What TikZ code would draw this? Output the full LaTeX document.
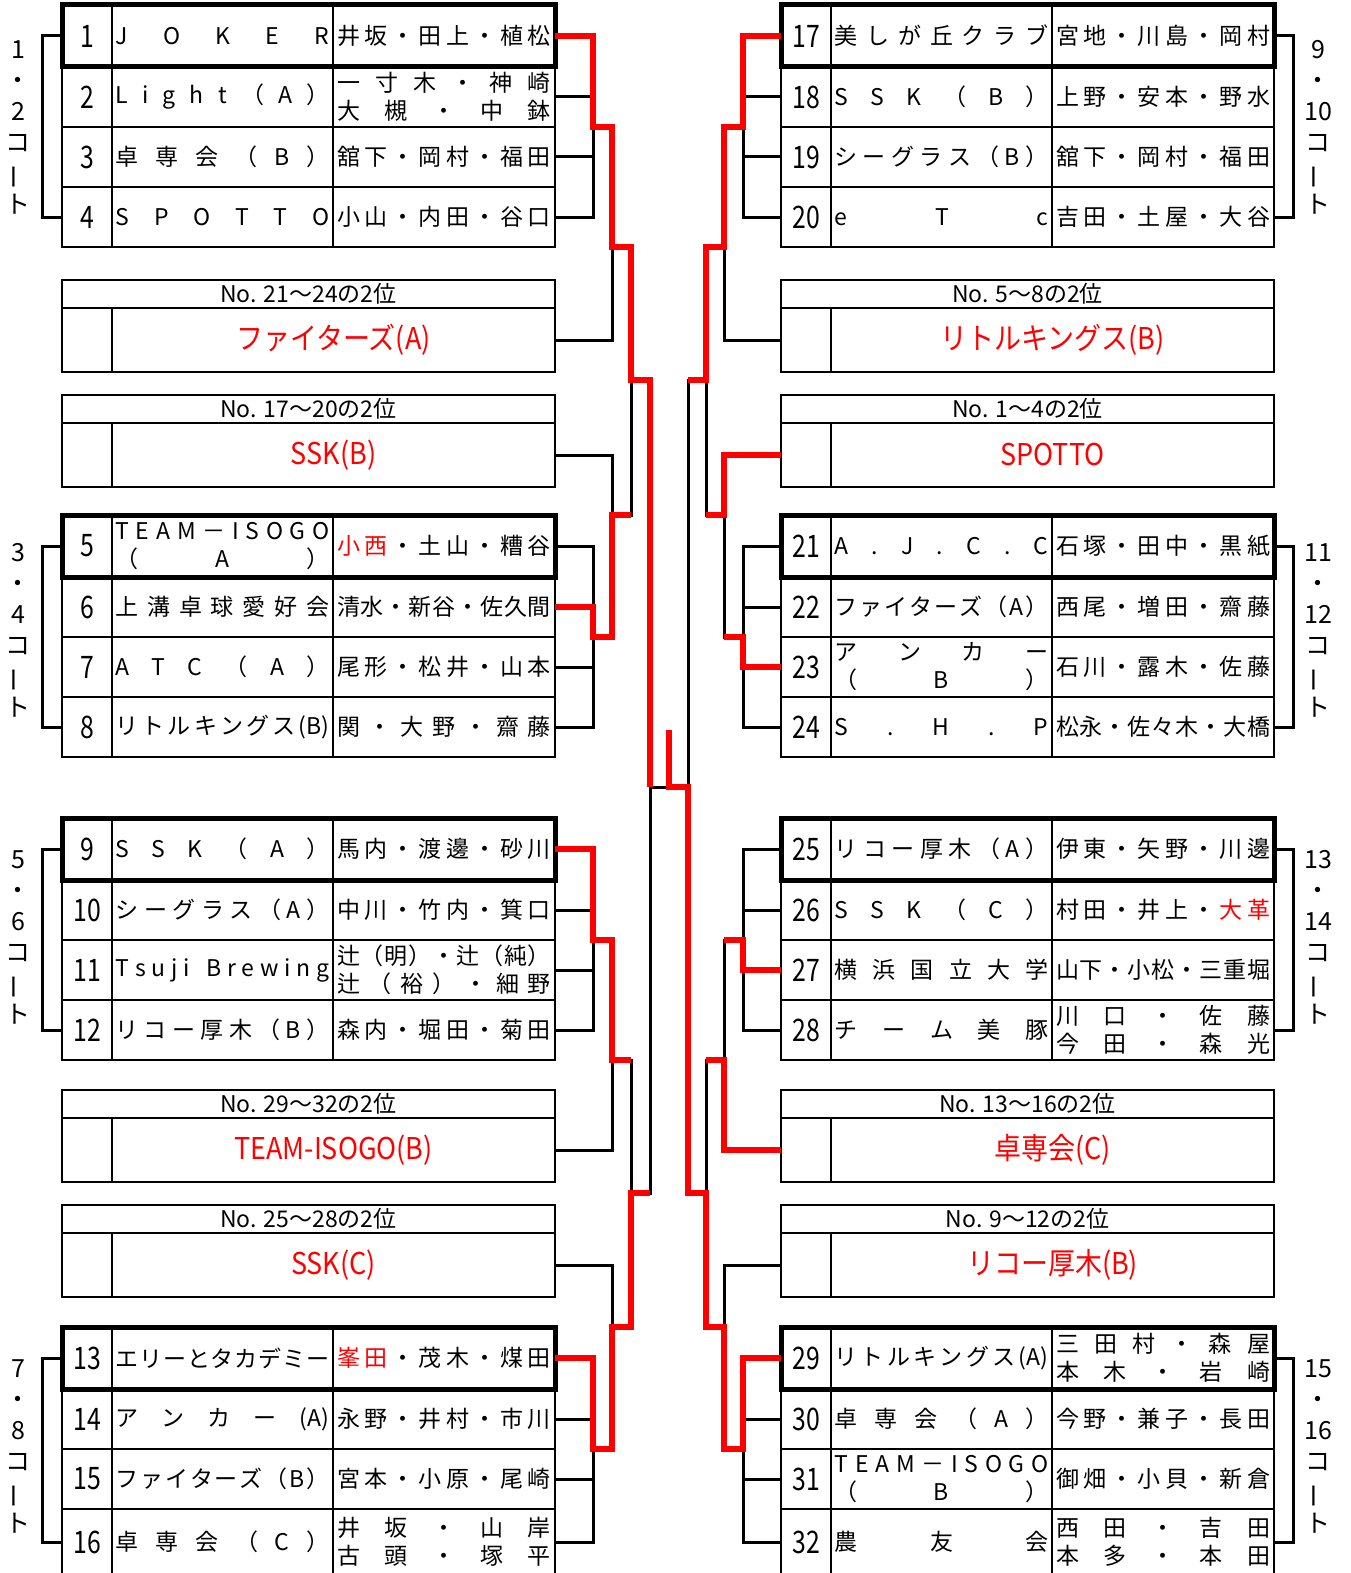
\documentclass[tikz,border=0pt]{standalone}
\usepackage{fontspec}
\setmainfont{Noto Sans CJK JP}
\usepackage{tikz}

\makeatletter
\def\distEnd{\distEnd}
\def\distA#1{#1\futurelet\next\distB}
\def\distB{\ifx\next\distEnd\expandafter\@gobble\else\hfill\expandafter\distA\fi}
\makeatother
\newcommand\ds[1]{\hbox to 214pt{\distA#1\distEnd}}
\newcommand\rd[1]{\textcolor{red}{#1}}
\newcommand\numtext[1]{\scalebox{0.8}[1]{\fontsize{31}{31}\selectfont #1}}
\newcommand\tatebar{\rotatebox[origin=c]{90}{ー}}

\tikzset{
  cell/.style={draw, line width=2.5pt, inner sep=0pt, outer sep=0pt, anchor=north west,
    align=center, font=\fontsize{23}{28}\selectfont},
  firstrow/.style={draw, line width=5pt},
  link/.style={line width=3pt},
  win/.style={red, line width=6pt},
  court/.style={align=center, inner sep=0pt, font=\fontsize{25}{31}\selectfont}
}

% one row of a league table
\newcommand\trow[6]{%
  \node[cell, minimum width=50, minimum height=#4] (n#1) at (#2,#3) {\numtext{#1}};
  \node[cell, minimum width=221, minimum height=#4] (t#1) at (n#1.north east) {#5};
  \node[cell, minimum width=222, minimum height=#4] (m#1) at (t#1.north east) {#6};
}
% seeded second place box
\newcommand\seed[5]{%
  \node[cell, minimum width=493, minimum height=28, font=\fontsize{23}{25}\selectfont] (h#1) at (#2,#3) {#4};
  \node[cell, minimum width=50, minimum height=64] (e#1) at (h#1.south west) {};
  \node[cell, minimum width=443, minimum height=64, text=red] (s#1) at (e#1.north east) {\scalebox{0.9}[1]{\fontsize{30}{34}\selectfont #5}};
}

\begin{document}
\begin{tikzpicture}[x=1pt,y=-1pt]
\useasboundingbox (0,0) rectangle (1350,1573);
\clip (0,0) rectangle (1350,1573);

\trow{1}{62}{5}{62}{\ds{JOKER}}{\ds{井坂・田上・植松}}
\trow{2}{62}{67}{60}{\ds{Light（A）}}{\ds{一寸木・神崎}\\\ds{大槻・中鉢}}
\trow{3}{62}{127}{60}{\ds{卓専会（B）}}{\ds{舘下・岡村・福田}}
\trow{4}{62}{187}{60}{\ds{SPOTTO}}{\ds{小山・内田・谷口}}
\trow{5}{62}{515}{62}{\ds{TEAM－ISOGO}\\\ds{（A）}}{\ds{{\rd{小}}{\rd{西}}・土山・糟谷}}
\trow{6}{62}{577}{60}{\ds{上溝卓球愛好会}}{\ds{清水・新谷・佐久間}}
\trow{7}{62}{637}{60}{\ds{ATC（A）}}{\ds{尾形・松井・山本}}
\trow{8}{62}{697}{60}{\ds{リトルキングス{(B)}}}{\ds{関・大野・齋藤}}
\trow{9}{62}{818}{62}{\ds{SSK（A）}}{\ds{馬内・渡邊・砂川}}
\trow{10}{62}{880}{60}{\ds{シーグラス（A）}}{\ds{中川・竹内・箕口}}
\trow{11}{62}{940}{60}{\ds{Tsuji{\ }Brewing}}{\ds{辻（明）・辻（純）}\\\ds{辻（裕）・細野}}
\trow{12}{62}{1000}{60}{\ds{リコー厚木（B）}}{\ds{森内・堀田・菊田}}
\trow{13}{62}{1327}{62}{\ds{エリーとタカデミー}}{\ds{{\rd{峯}}{\rd{田}}・茂木・煤田}}
\trow{14}{62}{1389}{60}{\ds{アンカー{(A)}}}{\ds{永野・井村・市川}}
\trow{15}{62}{1449}{60}{\ds{ファイターズ（B）}}{\ds{宮本・小原・尾崎}}
\trow{16}{62}{1509}{66}{\ds{卓専会（C）}}{\ds{井坂・山岸}\\\ds{古頭・塚平}}

\trow{17}{781}{5}{62}{\ds{美しが丘クラブ}}{\ds{宮地・川島・岡村}}
\trow{18}{781}{67}{60}{\ds{SSK（B）}}{\ds{上野・安本・野水}}
\trow{19}{781}{127}{60}{\ds{シーグラス（B）}}{\ds{舘下・岡村・福田}}
\trow{20}{781}{187}{60}{\ds{eTc}}{\ds{吉田・土屋・大谷}}
\trow{21}{781}{515}{62}{\ds{A.J.C.C}}{\ds{石塚・田中・黒紙}}
\trow{22}{781}{577}{60}{\ds{ファイターズ（A）}}{\ds{西尾・増田・齋藤}}
\trow{23}{781}{637}{60}{\ds{アンカー}\\\ds{（B）}}{\ds{石川・露木・佐藤}}
\trow{24}{781}{697}{60}{\ds{S.H.P}}{\ds{松永・佐々木・大橋}}
\trow{25}{781}{818}{62}{\ds{リコー厚木（A）}}{\ds{伊東・矢野・川邊}}
\trow{26}{781}{880}{60}{\ds{SSK（C）}}{\ds{村田・井上・{\rd{大}}{\rd{革}}}}
\trow{27}{781}{940}{60}{\ds{横浜国立大学}}{\ds{山下・小松・三重堀}}
\trow{28}{781}{1000}{60}{\ds{チーム美豚}}{\ds{川口・佐藤}\\\ds{今田・森光}}
\trow{29}{781}{1327}{62}{\ds{リトルキングス{(A)}}}{\ds{三田村・森屋}\\\ds{本木・岩崎}}
\trow{30}{781}{1389}{60}{\ds{卓専会（A）}}{\ds{今野・兼子・長田}}
\trow{31}{781}{1449}{60}{\ds{TEAM－ISOGO}\\\ds{（B）}}{\ds{御畑・小貝・新倉}}
\trow{32}{781}{1509}{66}{\ds{農友会}}{\ds{西田・吉田}\\\ds{本多・本田}}

\foreach \i in {1,5,9,13,17,21,25,29}
  \draw[firstrow] (n\i.north west) rectangle (m\i.south east);

\seed{1}{62}{280}{No. 21～24の2位}{ファイターズ(A)}
\seed{2}{62}{395}{No. 17～20の2位}{SSK(B)}
\seed{3}{62}{1090}{No. 29～32の2位}{TEAM-ISOGO(B)}
\seed{4}{62}{1205}{No. 25～28の2位}{SSK(C)}
\seed{5}{781}{280}{No. 5～8の2位}{リトルキングス(B)}
\seed{6}{781}{395}{No. 1～4の2位}{SPOTTO}
\seed{7}{781}{1090}{No. 13～16の2位}{卓専会(C)}
\seed{8}{781}{1205}{No. 9～12の2位}{リコー厚木(B)}

% courts
\node[court] (c1) at (18,127) {1\\・\\2\\コ\\\tatebar\\ト};
\node[court] (c2) at (18,630) {3\\・\\4\\コ\\\tatebar\\ト};
\node[court] (c3) at (18,937) {5\\・\\6\\コ\\\tatebar\\ト};
\node[court] (c4) at (18,1446) {7\\・\\8\\コ\\\tatebar\\ト};
\node[court] (c5) at (1318,127) {9\\・\\10\\コ\\\tatebar\\ト};
\node[court] (c6) at (1318,630) {11\\・\\12\\コ\\\tatebar\\ト};
\node[court] (c7) at (1318,937) {13\\・\\14\\コ\\\tatebar\\ト};
\node[court] (c8) at (1318,1446) {15\\・\\16\\コ\\\tatebar\\ト};

\coordinate (k1) at (42,127);   \coordinate (k2) at (42,637);
\coordinate (k3) at (42,940);   \coordinate (k4) at (42,1449);
\coordinate (k5) at (1293,127); \coordinate (k6) at (1293,637);
\coordinate (k7) at (1293,940); \coordinate (k8) at (1293,1449);
\draw[link] (n1.west) -| (k1) |- (n4.west);
\draw[link] (n5.west) -| (k2) |- (n8.west);
\draw[link] (n9.west) -| (k3) |- (n12.west);
\draw[link] (n13.west) -| (k4) |- (n16.west);
\draw[link] (m17.east) -| (k5) |- (m20.east);
\draw[link] (m21.east) -| (k6) |- (m24.east);
\draw[link] (m25.east) -| (k7) |- (m28.east);
\draw[link] (m29.east) -| (k8) |- (m32.east);

% bracket points
\coordinate (q1) at (593,127);  \coordinate (q2) at (593,637);
\coordinate (q3) at (593,940);  \coordinate (q4) at (593,1449);
\coordinate (r1) at (612,247);  \coordinate (r2) at (612,515);
\coordinate (r3) at (612,1060); \coordinate (r4) at (612,1327);
\coordinate (u1) at (631,380);  \coordinate (u2) at (631,1193);
\coordinate (w1) at (650,787);
\coordinate (q5) at (743,127);  \coordinate (q6) at (743,637);
\coordinate (q7) at (743,940);  \coordinate (q8) at (743,1449);
\coordinate (r5) at (724,247);  \coordinate (r6) at (724,515);
\coordinate (r7) at (724,1060); \coordinate (r8) at (724,1327);
\coordinate (u3) at (706,380);  \coordinate (u4) at (706,1193);
\coordinate (w2) at (688,787);
\coordinate (fin) at (669,787); \coordinate (champ) at (669,730);

% left half
\draw[link] (m1.east) -| (q1) |- (m4.east);
\draw[link] (m5.east) -| (q2) |- (m8.east);
\draw[link] (m9.east) -| (q3) |- (m12.east);
\draw[link] (m13.east) -| (q4) |- (m16.east);
\foreach \i/\q in {2/q1,3/q1,6/q2,7/q2,10/q3,11/q3,14/q4,15/q4}
  \draw[link] (m\i.east) -- (m\i.east -| \q);
\draw[link] (q1) -| (r1) |- (s1.east);
\draw[link] (s2.east) -| (r2) |- (q2);
\draw[link] (q3) -| (r3) |- (s3.east);
\draw[link] (s4.east) -| (r4) |- (q4);
\draw[link] (r1) -| (u1) |- (r2);
\draw[link] (r3) -| (u2) |- (r4);
\draw[link] (u1) -| (w1) |- (u2);

% right half
\draw[link] (n17.west) -| (q5) |- (n20.west);
\draw[link] (n21.west) -| (q6) |- (n24.west);
\draw[link] (n25.west) -| (q7) |- (n28.west);
\draw[link] (n29.west) -| (q8) |- (n32.west);
\foreach \i/\q in {18/q5,19/q5,22/q6,23/q6,26/q7,27/q7,30/q8,31/q8}
  \draw[link] (n\i.west) -- (n\i.west -| \q);
\draw[link] (q5) -| (r5) |- (e5.west);
\draw[link] (e6.west) -| (r6) |- (q6);
\draw[link] (q7) -| (r7) |- (e7.west);
\draw[link] (e8.west) -| (r8) |- (q8);
\draw[link] (r5) -| (u3) |- (r6);
\draw[link] (r7) -| (u4) |- (r8);
\draw[link] (u3) -| (w2) |- (u4);

% final
\draw[link] (w1) -- (w2);

% winners
\draw[win] (m1.east) -| (q1) -| (r1) -| (u1) -| (w1);
\draw[win] (m6.east) -| (q2) -| (r2) -- (r2 -| u1);
\draw[win] (m9.east) -| (q3) -| (r3) -- (r3 -| u2);
\draw[win] (m13.east) -| (q4) -| (r4) -| (u2) -- (u2 -| w1);
\draw[win] (n17.west) -| (q5) -| (r5) -| (u3) -- (u3 -| w2);
\draw[win] (e6.west) -| (r6) -- (r6 -| u3);
\draw[win] (n23.west) -| (q6) -- (q6 -| r6);
\draw[win] (e7.west) -| (r7) -- (r7 -| u4);
\draw[win] (n27.west) -| (q7) -- (q7 -| r7);
\draw[win] (n29.west) -| (q8) -| (r8) -| (u4) -| (w2) -- (fin) -- (champ);
\end{tikzpicture}
\end{document}
